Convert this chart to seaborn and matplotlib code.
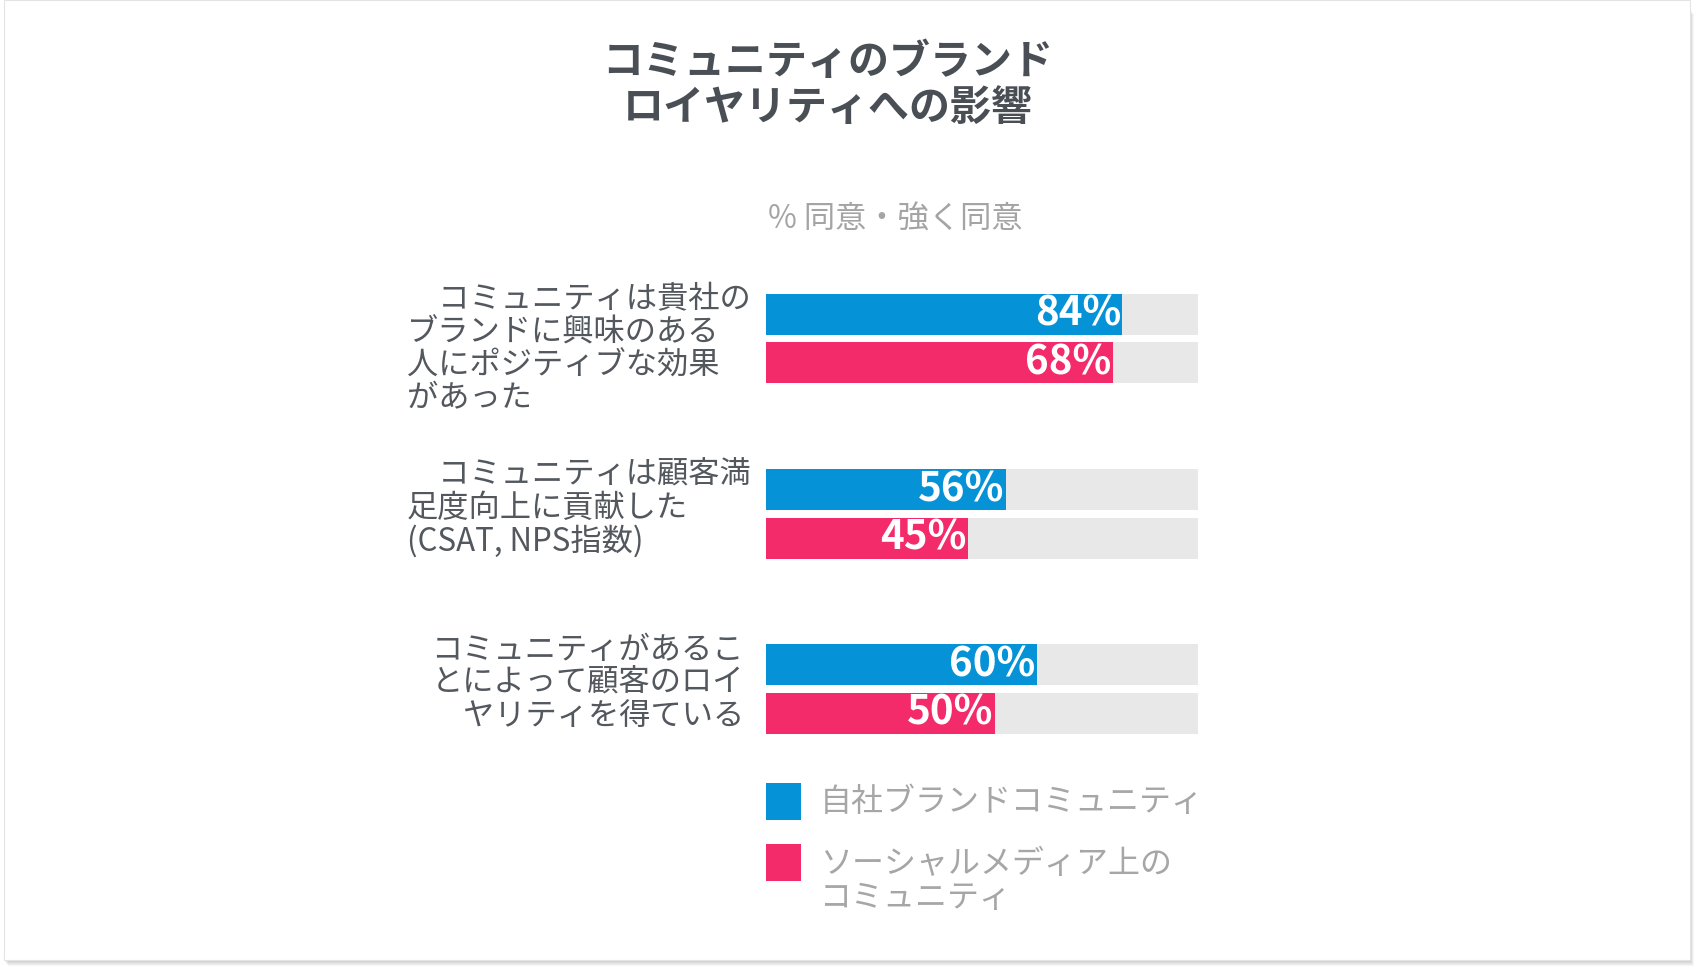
import numpy as np
import pandas as pd
import matplotlib
matplotlib.use("Agg")
import matplotlib.pyplot as plt
import seaborn as sns
from matplotlib.patches import Rectangle
from matplotlib.transforms import blended_transform_factory

# ---------------- data ----------------
title = "コミュニティのブランド\nロイヤリティへの影響"
subtitle = "% 同意・強く同意"
categories = [
    "　コミュニティは貴社の\nブランドに興味のある\n人にポジティブな効果\nがあった",
    "　コミュニティは顧客満\n足度向上に貢献した\n(CSAT, NPS指数)",
    "コミュニティがあるこ\nとによって顧客のロイ\nヤリティを得ている",
]
series = ["自社ブランドコミュニティ", "ソーシャルメディア上の\nコミュニティ"]
values_own = [84, 56, 60]          # printed labels
values_social = [68, 45, 50]
bar_len_own = [82.5, 55.5, 62.7]   # drawn bar lengths
bar_len_social = [80.3, 46.8, 52.9]
track_full = [100, 100, 100]
colors = ["#0592D7", "#F32B6B"]
track_color = "#E8E8E8"

# ---------------- style ----------------
sns.set_style("white")
plt.rcParams["font.family"] = ["Noto Sans CJK JP", "DejaVu Sans"]

W, H = 1696, 968
fig = plt.figure(figsize=(W / 100, H / 100), dpi=100)
fig.patch.set_facecolor("white")

# card with soft shadow
for k in range(1, 7):
    fig.patches.append(Rectangle(((4 + k * 0.6) / W, (8 - k) / H), 1686 / W, 952 / H,
                                 transform=fig.transFigure, facecolor="#000000",
                                 alpha=0.035, edgecolor="none", zorder=-3))
fig.patches.append(Rectangle((4 / W, 8 / H), 1686 / W, 960 / H, transform=fig.transFigure,
                             facecolor="white", edgecolor="#e4e4e4", linewidth=0.8, zorder=-2))

# axes: track spans pixels 766..1198, y from 280 to 760
ax = fig.add_axes([766 / W, (H - 760) / H, 432 / W, 480 / H])
ax.set_facecolor("none")

df_track = pd.DataFrame({
    "category": categories * 2,
    "series": [s for s in series for _ in categories],
    "value": track_full * 2,
})
df_bar = pd.DataFrame({
    "category": categories * 2,
    "series": [s for s in series for _ in categories],
    "value": bar_len_own + bar_len_social,
})

WIDTH, GAP = 0.553, 0.154
sns.barplot(data=df_track, y="category", x="value", hue="series", orient="h",
            palette=[track_color, track_color], width=WIDTH, gap=GAP, errorbar=None,
            saturation=1, linewidth=0, legend=False, ax=ax)
sns.barplot(data=df_bar, y="category", x="value", hue="series", orient="h",
            palette=colors, width=WIDTH, gap=GAP, errorbar=None,
            saturation=1, linewidth=0, legend=False, ax=ax)

ax.set_xlim(0, 100)
ax.set_ylim(2.405, -0.334)
ax.set_xlabel("")
ax.set_ylabel("")
ax.set_xticks([])
ax.set_yticks([])
for sp in ax.spines.values():
    sp.set_visible(False)

# value labels inside the colored bars
label_sets = [values_own, values_social]
for cont, vals in zip(ax.containers[2:4], label_sets):
    for rect, v in zip(cont, vals):
        x = rect.get_x() + rect.get_width()
        y = rect.get_y() + rect.get_height() / 2
        ax.text(x - 0.3, y, f"{v}%", ha="right", va="center", color="white",
                fontsize=29, fontweight="bold")

# category labels
tr = blended_transform_factory(fig.transFigure, ax.transData)
cat_text_color = "#53585e"
cat_pos = [(407 / W, "left"), (407 / W, "left"), (744 / W, "right")]
for i, (cat, (xf, ha)) in enumerate(zip(categories, cat_pos)):
    blue_top = ax.containers[2][i].get_y()
    y = blue_top - 0.058
    ax.text(xf, y, cat, transform=tr, ha=ha, va="top", multialignment=ha,
            fontsize=22.5, color=cat_text_color, linespacing=1.035, clip_on=False)

# title & subtitle
fig.text(828 / W, 1 - 85 / H, title, ha="center", va="center", fontsize=29.5,
         color="#4a4f56", fontweight="bold", linespacing=1.13)
fig.text(895 / W, 1 - 220 / H, subtitle, ha="center", va="center", fontsize=22.5,
         color="#a4a4a4")

# legend (squares aligned with the first line of each label)
leg_color = "#a6a6a6"
leg_rows = [(783, 820), (844, 881)]   # pixel top/bottom of each swatch
for (top, bot), col, lab in zip(leg_rows, colors, series):
    fig.patches.append(Rectangle((766 / W, 1 - bot / H), 35 / W, (bot - top) / H,
                                 transform=fig.transFigure, facecolor=col, edgecolor="none"))
    fig.text(820 / W, 1 - (top + 3.5) / H, lab, ha="left", va="top", fontsize=23,
             color=leg_color, linespacing=1.12)

fig.savefig("out.png", dpi=100, facecolor="white")
